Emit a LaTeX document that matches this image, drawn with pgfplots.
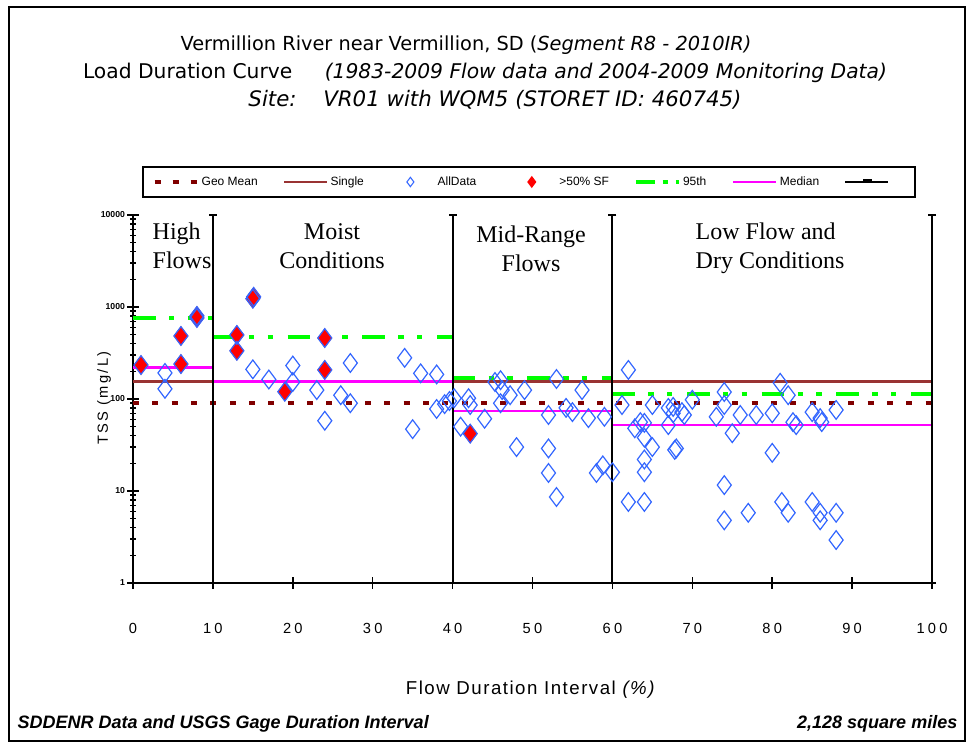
\documentclass[border=0pt]{standalone}
\usepackage{pgfplots}
\pgfplotsset{compat=1.18}
\usepackage{fontspec}
\setmainfont{Liberation Sans}
\newfontfamily\serif{Liberation Serif}
\newfontfamily\titlefont{DejaVu Sans}
\definecolor{geored}{RGB}{128,0,0}
\definecolor{singbr}{RGB}{153,51,51}
\definecolor{ptblue}{RGB}{51,102,255}
\definecolor{pctgreen}{RGB}{0,255,0}
\definecolor{medmag}{RGB}{255,0,255}
\pgfplotsset{
  lline/.style={legend image code/.code={\draw[##1] (0pt,0pt) -- (32pt,0pt);}},
  lmark/.style={legend image code/.code={\path (0pt,0pt) (34pt,0pt);\draw[##1] plot[only marks] coordinates {(16pt,0pt)};}},
  lblack/.style={legend image code/.code={\draw[black,line width=1.4pt] (0pt,0pt) -- (32pt,0pt);\fill[black] (14pt,0pt) rectangle (19pt,1.8pt);}},
}
\begin{document}
\begin{tikzpicture}[x=0.75pt,y=0.75pt]
\useasboundingbox (0,0) rectangle (973,742);
\draw[line width=1.5pt] (9,1) rectangle (965,735);
\begin{axis}[
  at={(99.75pt,119.25pt)}, anchor=south west,
  scale only axis, width=599.25pt, height=276pt,
  xmin=0, xmax=100, ymode=log, ymin=1, ymax=10000,
  axis lines=left, axis line style={-, line width=1.5pt},
  xtick={0,10,...,100},
  ytick={1,10,100,1000,10000},
  yticklabels={1,10,100,1000,10000},
  /pgf/number format/assume math mode=true,
  tick align=center,
  major tick length=9pt,
  minor tick length=4pt,
  tick style={black, line width=1.1pt},
  xticklabel style={yshift=-22pt, font=\addfontfeature{LetterSpace=22}\fontsize{11}{12}\selectfont},
  yticklabel style={xshift=2pt, font=\bfseries\fontsize{6.5}{7}\selectfont},
  clip=false,
  legend columns=7,
  legend style={at={(0.4956,1.0897)}, anchor=center, draw=black, line width=1.3pt,
    inner xsep=7.5pt, inner ysep=5pt,
    font=\fontsize{9}{10}\selectfont,
    /tikz/every even column/.append style={column sep=0pt}},
]
% lines
\addplot[geored, line width=2.6pt, dash pattern=on 4.5pt off 10pt, forget plot] coordinates {(0,90) (100,90)};
\addplot[singbr, line width=1.6pt, forget plot] coordinates {(0,155) (100,155)};
% 95th percentile
\addplot[pctgreen, line width=2.8pt, dash pattern=on 17pt off 10pt on 4pt off 10pt on 4pt off 11pt, forget plot] coordinates {(0,760) (10,760)};
\addplot[pctgreen, line width=2.8pt, dash pattern=on 17pt off 10pt on 4pt off 10pt on 4pt off 11pt, forget plot] coordinates {(10,472) (40,472)};
\addplot[pctgreen, line width=2.8pt, dash pattern=on 17pt off 10pt on 4pt off 10pt on 4pt off 11pt, forget plot] coordinates {(40,169) (60,169)};
\addplot[pctgreen, line width=2.8pt, dash pattern=on 17pt off 10pt on 4pt off 10pt on 4pt off 11pt, forget plot] coordinates {(60,113) (100,113)};
% median
\addplot[medmag, line width=1.6pt, forget plot] coordinates {(0,220) (10,220)};
\addplot[medmag, line width=1.6pt, forget plot] coordinates {(10,155) (40,155)};
\addplot[medmag, line width=1.6pt, forget plot] coordinates {(40,74) (60,74)};
\addplot[medmag, line width=1.6pt, forget plot] coordinates {(60,52) (100,52)};
% region boundaries
\addplot[black, line width=1.5pt, mark=-, mark size=3pt, forget plot] coordinates {(10,1) (10,10000)};
\addplot[black, line width=1.5pt, mark=-, mark size=3pt, forget plot] coordinates {(40,1) (40,10000)};
\addplot[black, line width=1.5pt, mark=-, mark size=3pt, forget plot] coordinates {(60,1) (60,10000)};
\addplot[black, line width=1.5pt, mark=-, mark size=3pt, forget plot] coordinates {(100,1) (100,10000)};
% >50% SF samples
\addplot[only marks, mark=diamond*, mark size=7pt, mark options={fill=red, draw=red}, forget plot] coordinates {
 (1,234) (6,484) (6,240) (8,760) (8,800) (13,497) (13,334) (15,1230) (15.1,1290)
 (19,120) (24,460) (24,207) (42.2,42)
};
% all data
\addplot[only marks, mark=diamond, mark size=7pt, mark options={draw=ptblue, line width=0.9pt}, forget plot] coordinates {
 (1,234) (4,192) (4,129) (6,484) (6,240) (8,760) (8,800)
 (13,497) (13,334) (15,1230) (15.1,1290) (15,210) (17,163) (19,120) (20,231) (20,153)
 (23,125) (24,460) (24,207) (24,58) (26,110) (27.2,90) (27.2,246) (34,280) (35,47)
 (36,190) (38,185) (38,78) (39,88) (39.6,95)
 (40.2,102) (41,50) (42,102) (42.2,86) (42.2,42) (44,61) (45.3,153) (46,160) (46.2,125)
 (46,90) (47.2,110) (48,30) (49,125) (52,67) (52,29) (52,15.7) (53,8.6) (53,165)
 (54.2,80) (55,72) (56.2,125) (57,62) (58,15.7) (58.8,19) (59,64) (60,16)
 (61.2,86) (62,207) (62.8,48) (63.5,56) (64,55) (64,38) (65,30) (64,22) (64,16)
 (62,7.6) (64,7.6) (65,86) (67,52) (67.6,82) (67,80) (67.6,70) (67.8,28) (68,29)
 (68.7,72) (69,67) (70,98) (73,64) (74,119) (74,86) (75,42.5) (74,11.6) (74,4.8)
 (76,67) (77,5.8) (78,67) (80,70) (80,26) (81,150) (82,110) (82.6,56) (83,52)
 (81.2,7.6) (82,5.8) (85,72) (86,62) (86.2,56) (88,76) (85,7.6) (86,5.8) (86,4.8)
 (88,5.8) (88,2.93)
};
% legend
\addlegendimage{lline, geored, line width=2.6pt, dash pattern=on 4.5pt off 9pt}
\addlegendentry{\makebox[59pt][l]{Geo Mean}}
\addlegendimage{lline, singbr, line width=1.6pt}
\addlegendentry{\makebox[41.5pt][l]{Single}}
\addlegendimage{lmark, mark=diamond, mark size=3.5pt, draw=ptblue, line width=0.8pt}
\addlegendentry{\makebox[52pt][l]{AllData}}
\addlegendimage{lmark, mark=diamond*, mark size=3.5pt, draw=red, fill=red}
\addlegendentry{\makebox[54pt][l]{>50\% SF}}
\addlegendimage{lline, pctgreen, line width=2.8pt, dash pattern=on 14pt off 6pt on 4pt off 6pt}
\addlegendentry{\makebox[35pt][l]{95th}}
\addlegendimage{lline, medmag, line width=1.6pt}
\addlegendentry{\makebox[46.5pt][l]{Median}}
\addlegendimage{lblack}
\addlegendentry{\makebox[8pt][l]{}}
\end{axis}
% titles
\node[font=\titlefont\fontsize{14.5}{16}\selectfont] at (466,697) {Vermillion River near Vermillion, SD (\textit{Segment R8 - 2010IR)}};
\node[font=\titlefont\fontsize{15.2}{16}\selectfont] at (485,669) {Load Duration Curve\hspace{1.6em}\textit{(1983-2009 Flow data and 2004-2009 Monitoring Data)}};
\node[font=\titlefont\fontsize{16}{17}\selectfont\itshape] at (495,642) {Site:\hspace{1.25em}VR01 with WQM5 (STORET ID: 460745)};
% region labels
\node[font=\serif\fontsize{18}{20}\selectfont, anchor=base west] at (148,502) {High};
\node[font=\serif\fontsize{18}{20}\selectfont, anchor=base west] at (148,473) {Flows};
\node[font=\serif\fontsize{18}{20}\selectfont, anchor=base] at (332,502) {Moist};
\node[font=\serif\fontsize{18}{20}\selectfont, anchor=base] at (332,473) {Conditions};
\node[font=\serif\fontsize{18}{20}\selectfont, anchor=base] at (531,499) {Mid-Range};
\node[font=\serif\fontsize{18}{20}\selectfont, anchor=base] at (531,470) {Flows};
\node[font=\serif\fontsize{18}{20}\selectfont, anchor=base west] at (691,502) {Low Flow and};
\node[font=\serif\fontsize{18}{20}\selectfont, anchor=base west] at (691,473) {Dry Conditions};
% axis labels
\node[rotate=90, font=\addfontfeature{LetterSpace=15}\fontsize{11}{12}\selectfont] at (104,344) {TSS (mg/L)};
\node[font=\addfontfeature{LetterSpace=8}\fontsize{14}{15}\selectfont] at (531,52) {Flow Duration Interval \textit{(\%)}};
% footer
\node[anchor=west, font=\bfseries\itshape\fontsize{13.5}{14}\selectfont] at (13,18) {SDDENR Data and USGS Gage Duration Interval};
\node[anchor=east, font=\bfseries\itshape\fontsize{13.5}{14}\selectfont] at (962,18) {2,128 square miles};
\end{tikzpicture}
\end{document}
